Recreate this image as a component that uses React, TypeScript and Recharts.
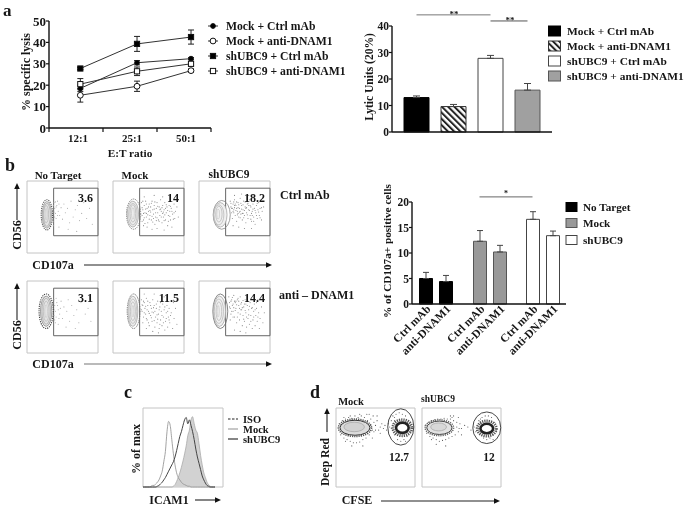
import React from 'react';
import { LineChart, Line, BarChart, Bar, Cell, ErrorBar, XAxis, YAxis, ReferenceLine, ReferenceArea, ScatterChart, Scatter, ComposedChart, Area } from 'recharts';

const serif = '"Liberation Serif", serif';
const ink = '#161616';

// ---- panel a, lysis lines
const ratioLabels = ['12:1', '25:1', '50:1'];
const ratioSlots = [0.58, 1.63, 2.63];
const mockCtrl = [18.5, 30.5, 32.4];
const mockCtrlErr = [1.5, 1, 0.5];
const mockAnti = [15.3, 19.5, 26.8];
const mockAntiErr = [3.2, 2.4, 0.8];
const shCtrl = [27.8, 39.3, 42.5];
const shCtrlErr = [0.5, 3.5, 3.3];
const shAnti = [20.5, 26.5, 30];
const shAntiErr = [2.6, 2, 1];
const lysisNames = ['Mock + Ctrl mAb', 'Mock + anti-DNAM1', 'shUBC9 + Ctrl mAb', 'shUBC9 + anti-DNAM1'];
const lysisRows = ratioSlots.map((slot, i) => ({
  slot,
  mockCtrl: mockCtrl[i], mockCtrlErr: mockCtrlErr[i],
  mockAnti: mockAnti[i], mockAntiErr: mockAntiErr[i],
  shCtrl: shCtrl[i], shCtrlErr: shCtrlErr[i],
  shAnti: shAnti[i], shAntiErr: shAntiErr[i],
}));

// ---- panel a, lytic units bars
const lyticValues = [13, 9.6, 27.8, 15.8];
const lyticErr = [0.6, 0.8, 1.1, 2.5];
const lyticFill = ['#000', 'url(#hatchA)', '#fff', '#a0a0a0'];
const lyticStroke = ['#000', '#333', '#444', '#555'];
const lyticRows = lysisNames.map((name, i) => ({ name, v: lyticValues[i], e: [0, lyticErr[i]] }));

// ---- panel b, CD107a bars
const cdSlots = [0, 1, 2.7, 3.7, 5.35, 6.35];
const cdLabels = ['Ctrl mAb', 'anti-DNAM1', 'Ctrl mAb', 'anti-DNAM1', 'Ctrl mAb', 'anti-DNAM1'];
const cdValues = [5, 4.4, 12.3, 10.2, 16.6, 13.4];
const cdErr = [1.2, 1.2, 2.1, 1.3, 1.5, 0.9];
const cdFill = ['#000', '#000', '#999', '#999', '#fff', '#fff'];
const cdStroke = ['#000', '#000', '#555', '#555', '#444', '#444'];
const cdRows = cdSlots.map((slot, i) => ({ slot, v: cdValues[i], e: [0, cdErr[i]] }));
const cdLegendNames = ['No Target', 'Mock', 'shUBC9'];

// ---- panel b, flow plots (x, y on the 0-100 plot scale)
const dotsNoTargetCtrl = [[38,70],[39,62],[40,55],[41,48],[37,44],[42,66],[44,58],[46,52],[43,72],[48,63],[50,47],[52,68],[54,56],[57,62],[60,42],[62,72],[65,50],[68,60],[71,66],[74,45],[77,55],[80,70],[84,48],[88,62],[92,40],[58,33],[70,30],[45,36],[36,58],[39,50],[37,66],[36,50],[38,57],[41,64],[40,71],[37,38],[43,52],[45,68]];
const dotsMockCtrl = [[40,70],[42,60],[41,52],[43,46],[44,66],[45,56],[46,72],[47,50],[48,62],[49,42],[50,58],[51,68],[52,52],[53,64],[54,46],[55,72],[56,60],[57,54],[58,66],[59,40],[60,50],[61,62],[62,70],[63,56],[64,46],[65,64],[66,52],[67,74],[68,58],[69,42],[70,66],[71,50],[72,60],[73,70],[74,46],[75,56],[76,64],[77,38],[78,52],[79,66],[80,58],[81,46],[82,62],[84,54],[86,68],[87,48],[88,58],[90,64],[92,50],[48,36],[55,33],[62,34],[72,32],[83,36],[44,78],[58,80],[70,78],[43,38],[47,55],[52,59],[57,48],[61,45],[66,60],[70,55],[74,62],
  [41,63],[43,55],[44,49],[46,61],[47,68],[49,53],[50,64],[51,47],[53,57],[54,69],[55,51],[56,43],[58,61],[59,71],[60,56],[62,49],[63,65],[65,44],[67,61],[68,50],[69,63],[71,57],[72,45],[73,53],[75,67],[77,59],[78,44],[80,51],[81,65],[83,58],[85,47],[86,56],[41,44],[42,72],[45,41]];
const dotsShCtrl = [[44,72],[45,64],[46,56],[47,48],[48,68],[49,60],[50,74],[51,52],[52,66],[53,44],[54,58],[55,70],[56,50],[57,62],[58,76],[59,54],[60,66],[61,46],[62,60],[63,72],[64,52],[65,64],[66,42],[67,56],[68,68],[69,48],[70,60],[71,74],[72,52],[73,64],[74,44],[75,58],[76,68],[77,50],[78,62],[79,40],[80,56],[81,66],[82,48],[83,60],[84,70],[85,52],[86,62],[88,46],[89,58],[91,64],[48,38],[56,36],[64,34],[74,34],[50,80],[60,82],[70,80],[47,62],[50,66],[53,62],[49,56],[55,55],[58,58],[62,55],[66,62],[70,66],[75,52],
  [45,69],[46,62],[48,58],[49,71],[50,63],[51,68],[52,59],[53,71],[54,53],[55,63],[56,67],[57,57],[58,49],[59,69],[60,61],[61,55],[62,67],[63,49],[64,59],[65,71],[67,63],[68,53],[69,69],[71,59],[72,66],[73,47],[74,55],[76,61],[77,44],[79,59],[81,52],[82,69],[84,57],[86,49],[88,63]];
const dotsNoTargetAnti = [[38,74],[39,66],[40,58],[41,50],[40,42],[42,70],[44,60],[46,54],[48,72],[50,48],[52,64],[56,58],[58,74],[60,44],[63,66],[66,52],[70,60],[73,42],[76,70],[82,54],[86,62],[90,44],[55,36],[68,34],[44,40],[38,52],[38,60],[39,46],[41,76],[43,66],[45,48],[47,62]];
const dotsMockAnti = [[40,74],[42,66],[41,58],[43,50],[42,42],[44,70],[45,62],[46,54],[47,76],[48,46],[49,66],[50,58],[51,38],[52,70],[53,52],[54,62],[55,44],[56,74],[57,56],[58,66],[59,36],[60,50],[61,62],[62,42],[63,72],[64,54],[65,34],[66,64],[67,46],[68,58],[69,38],[70,68],[71,50],[72,60],[73,32],[74,44],[75,56],[76,66],[77,36],[78,50],[79,62],[80,42],[82,56],[84,34],[86,48],[88,62],[90,40],[47,34],[56,30],[64,28],[44,82],[58,82],[72,78],[85,70],
  [40,60],[41,67],[43,72],[44,56],[46,65],[47,48],[48,60],[49,72],[50,42],[51,55],[53,66],[54,49],[55,57],[57,63],[58,45],[59,58],[61,68],[62,53],[63,47],[65,60],[66,40],[67,70],[69,52],[71,42],[73,64],[75,48],[77,58],[79,46],[81,52]];
const dotsShAnti = [[42,78],[43,70],[44,62],[45,54],[44,46],[46,74],[47,66],[48,58],[49,80],[50,50],[51,70],[52,62],[53,42],[54,74],[55,56],[56,66],[57,46],[58,78],[59,60],[60,70],[61,38],[62,52],[63,64],[64,44],[65,74],[66,56],[67,36],[68,66],[69,48],[70,60],[71,40],[72,70],[73,52],[74,62],[75,34],[76,46],[77,58],[78,68],[79,38],[80,52],[81,62],[82,44],[83,74],[84,56],[85,34],[86,48],[88,64],[90,42],[92,56],[50,32],[58,30],[66,28],[48,68],[52,72],[56,72],[60,60],[64,68],[68,74],
  [43,64],[45,72],[46,58],[47,77],[48,50],[49,63],[50,72],[51,59],[53,67],[54,50],[55,76],[57,62],[58,54],[59,68],[61,63],[62,73],[63,47],[65,59],[66,68],[67,50],[69,72],[70,53],[71,65],[73,44],[75,63],[77,50],[79,60],[81,70],[83,50]];

const bandsNoTargetCtrl = [
  { x: 28, y: 53, rx: 8, ry: 21, line: '#555', dash: '1.2 1', wide: 1.1 },
  { x: 28, y: 53, rx: 6.5, ry: 18.5, line: '#999', dash: '', wide: 0.8, fill: '#e4e4e4' },
  { x: 28, y: 53, rx: 5, ry: 16, line: '#aaa', dash: '', wide: 0.8 },
  { x: 27, y: 54, rx: 3.5, ry: 12, line: '#bbb', dash: '', wide: 0.8 },
  { x: 27, y: 54, rx: 1.5, ry: 8, line: '#ccc', dash: '', wide: 0.8 },
];
const bandsMockCtrl = [
  { x: 29, y: 54, rx: 10, ry: 21, line: '#777', dash: '1.2 1', wide: 1 },
  { x: 28, y: 54, rx: 8, ry: 18, line: '#aaa', dash: '', wide: 0.8, fill: '#ededed' },
  { x: 28, y: 54, rx: 6, ry: 15, line: '#bbb', dash: '', wide: 0.8 },
  { x: 28, y: 55, rx: 4, ry: 12, line: '#bbb', dash: '', wide: 0.8 },
  { x: 28, y: 55, rx: 2, ry: 8, line: '#ccc', dash: '', wide: 0.8 },
];
const bandsShCtrl = [
  { x: 32, y: 53, rx: 12, ry: 20, line: '#888', dash: '', wide: 0.8 },
  { x: 30, y: 53, rx: 9.5, ry: 17, line: '#aaa', dash: '', wide: 0.8, fill: '#f0f0f0' },
  { x: 28, y: 53, rx: 7, ry: 14, line: '#bbb', dash: '', wide: 0.8 },
  { x: 28, y: 54, rx: 4.5, ry: 11, line: '#bbb', dash: '', wide: 0.8 },
  { x: 27, y: 54, rx: 2, ry: 7, line: '#ccc', dash: '', wide: 0.8 },
];
const bandsNoTargetAnti = [
  { x: 27, y: 58, rx: 10, ry: 24, line: '#444', dash: '1.2 1', wide: 1.1 },
  { x: 27, y: 58, rx: 8, ry: 21, line: '#888', dash: '', wide: 0.8, fill: '#e4e4e4' },
  { x: 27, y: 58, rx: 6, ry: 18, line: '#aaa', dash: '', wide: 0.8 },
  { x: 27, y: 58, rx: 4, ry: 14, line: '#bbb', dash: '', wide: 0.8 },
  { x: 27, y: 58, rx: 2, ry: 9, line: '#ccc', dash: '', wide: 0.8 },
];
const bandsMockAnti = [
  { x: 29, y: 58, rx: 9, ry: 24, line: '#666', dash: '1.2 1', wide: 1 },
  { x: 28, y: 58, rx: 7, ry: 21, line: '#aaa', dash: '', wide: 0.8, fill: '#ededed' },
  { x: 28, y: 58, rx: 5.5, ry: 17, line: '#bbb', dash: '', wide: 0.8 },
  { x: 28, y: 58, rx: 3.5, ry: 13, line: '#bbb', dash: '', wide: 0.8 },
  { x: 28, y: 58, rx: 1.5, ry: 8, line: '#ccc', dash: '', wide: 0.8 },
];
const bandsShAnti = [
  { x: 30, y: 58, rx: 10.5, ry: 24, line: '#666', dash: '', wide: 0.8 },
  { x: 29, y: 58, rx: 8.5, ry: 21, line: '#aaa', dash: '', wide: 0.8, fill: '#f0f0f0' },
  { x: 28, y: 58, rx: 6.5, ry: 17, line: '#bbb', dash: '', wide: 0.8 },
  { x: 28, y: 58, rx: 4, ry: 13, line: '#bbb', dash: '', wide: 0.8 },
  { x: 27, y: 58, rx: 1.5, ry: 8, line: '#ccc', dash: '', wide: 0.8 },
];

const flowPercents = ['3.6', '14', '18.2', '3.1', '11.5', '14.4'];
const flowTicks = [4, 10, 16, 22, 30, 46, 54, 62, 70, 78, 90, 97];

// ---- panel c, ICAM1 histogram
const histX = [0,2,4,6,8,10,12,14,16,18,20,22,24,26,28,30,32,34,36,38,40,42,44,46,48,50,52,54,56,58,60,62,64,66,68,70,72,74,76,78,80,82,84,86,88,90];
const histIso = [0,0,0,0,0,1,2,2,4,6,9,14,20,32,45,70,83,78,60,42,28,18,12,9,6,4,3,2,1,1,0,0,0,0,0,0,0,0,0,0,0,0,0,0,0,0];
const histMock = [0,0,0,0,0,0,0,0,0,0,0,0,0,0,0,0,0,0,0,1,3,7,12,18,25,33,42,52,65,72,85,89,80,72,68,55,40,28,18,12,6,3,1,0,0,0];
const histSh = [0,0,0,0,0,0,0,0,0,1,2,4,6,9,12,16,20,24,28,32,38,46,55,64,70,78,85,88,80,85,78,70,60,48,38,30,22,14,9,5,2,1,0,0,0,0];
const histRows = histX.map((x, i) => ({ x, iso: histIso[i], mock: histMock[i], sh: histSh[i] }));
const histNames = ['ISO', 'Mock', 'shUBC9'];

// ---- panel d, CFSE flow plots
const dotsCfseMock = [[4,80],[6,66],[8,84],[10,62],[12,86],[14,60],[16,88],[18,58],[20,87],[22,56],[24,90],[26,56],[28,88],[30,57],[32,90],[34,60],[36,88],[38,62],[40,84],[42,66],[44,86],[46,72],[48,82],[50,78],[52,84],[54,72],[56,76],[58,80],[60,74],[62,78],[64,72],[66,80],[68,76],[70,84],[72,90],[74,66],[76,92],[78,60],[80,94],[82,58],[84,92],[86,60],[88,90],[90,64],[92,84],[94,70],[70,74],[72,80],[74,84],[76,68],[92,76],[90,82],[42,92],[52,90],[34,52],[20,52],[46,62],[56,68],[39,92],[47,90],[44,78],[48,70],[42,74],[50,72],[30,92],[18,90],[10,88],[8,72],[12,58],[74,88],[88,58],[94,78]];
const dotsCfseSh = [[4,78],[6,68],[8,82],[10,64],[12,84],[14,62],[16,85],[18,60],[20,86],[22,58],[24,86],[26,59],[28,87],[30,60],[32,86],[34,62],[36,86],[38,64],[40,84],[42,66],[44,82],[46,70],[48,80],[50,74],[54,78],[58,76],[62,72],[66,76],[68,70],[70,78],[72,84],[74,68],[76,88],[78,62],[80,90],[82,60],[84,90],[86,62],[88,88],[90,66],[92,82],[94,72],[72,74],[74,80],[76,72],[90,76],[88,82],[46,88],[40,90],[30,52],[18,54],[50,66],[38,88],[44,76],[47,74],[36,90],[12,60],[8,74],[74,86],[90,60]];
const bandsCfseMock = [
  { x: 24, y: 75, rx: 21, ry: 11, line: '#555', dash: '1.2 1', wide: 1.6 },
  { x: 24, y: 75, rx: 19, ry: 9.5, line: '#333', dash: '', wide: 1, fill: '#dcdcdc' },
  { x: 23, y: 76, rx: 13, ry: 6, line: '#aaa', dash: '', wide: 0.8, fill: '#d2d2d2' },
  { x: 84, y: 75, rx: 12, ry: 10, line: '#555', dash: '1.2 1', wide: 3 },
  { x: 84, y: 75, rx: 8, ry: 6.5, line: '#222', dash: '', wide: 2.6, fill: '#fff' },
];
const bandsCfseSh = [
  { x: 22, y: 75, rx: 18, ry: 10, line: '#666', dash: '1.2 1', wide: 1.5 },
  { x: 22, y: 75, rx: 16, ry: 8.5, line: '#444', dash: '', wide: 1, fill: '#e2e2e2' },
  { x: 21, y: 76, rx: 10, ry: 5, line: '#aaa', dash: '', wide: 0.8, fill: '#d8d8d8' },
  { x: 82, y: 74, rx: 12, ry: 9.5, line: '#555', dash: '1.2 1', wide: 3 },
  { x: 82, y: 74, rx: 8, ry: 6, line: '#222', dash: '', wide: 2.6, fill: '#fff' },
];
const gateCfseMock = [{ x: 82, y: 76, rx: 16.5, ry: 23, line: '#333', dash: '', wide: 0.9 }];
const gateCfseSh = [{ x: 82, y: 75, rx: 17.7, ry: 20, line: '#333', dash: '', wide: 0.9 }];

const tickStyle = { fontFamily: serif, fontWeight: 700, fontSize: 13, fill: ink };
const smallTickStyle = { ...tickStyle, fontSize: 11.5 };

type Mark = 'disc' | 'ring' | 'block' | 'box';
const Marker = ({ cx, cy, kind }: { cx: number; cy: number; kind: Mark }) => {
  const open = kind === 'ring' || kind === 'box';
  const fill = open ? '#fff' : '#000';
  if (kind === 'disc' || kind === 'ring') return <circle cx={cx} cy={cy} r={open ? 2.9 : 2.4} fill={fill} stroke="#111" strokeWidth={1} />;
  return <rect x={cx - 2.6} y={cy - 2.6} width={5.2} height={5.2} fill={fill} stroke="#111" strokeWidth={1} />;
};
const lysisMarks: Mark[] = ['disc', 'ring', 'block', 'box'];

const at = (left: number, top: number): React.CSSProperties => ({ position: 'absolute', left, top });

const markerDot = (kind: Mark) => (p: any) => <Marker key={p.index} cx={p.cx} cy={p.cy} kind={kind} />;

const LysisChart = () => {
  const series: [string, string, Mark][] = [
    ['mockCtrl', 'mockCtrlErr', 'disc'], ['mockAnti', 'mockAntiErr', 'ring'],
    ['shCtrl', 'shCtrlErr', 'block'], ['shAnti', 'shAntiErr', 'box'],
  ];
  return (
    <div style={at(0, 0)}>
      <LineChart width={221} height={160} data={lysisRows} margin={{ top: 21, right: 10, bottom: 0, left: 0 }}>
        <XAxis dataKey="slot" type="number" domain={[0, 3]} ticks={[0, 0.5, 1, 1.5, 2, 2.5, 3]} interval={0} height={32}
          axisLine={{ stroke: '#111', strokeWidth: 1.4 }} tickLine={false}
          tick={(p: any) => {
            const v = p.payload.value;
            if (Number.isInteger(v)) return <line x1={p.x} x2={p.x} y1={128} y2={132} stroke="#111" strokeWidth={1.2} />;
            return <text x={p.x + 2} y={138} textAnchor="middle" dominantBaseline="central" style={{ ...tickStyle, fontSize: 11 }}>{ratioLabels[Math.floor(v)]}</text>;
          }} />
        <YAxis domain={[0, 50]} ticks={[0, 10, 20, 30, 40, 50]} width={49} tick={tickStyle} tickSize={3} tickMargin={0}
          axisLine={{ stroke: '#111', strokeWidth: 1.4 }} tickLine={{ stroke: '#111', strokeWidth: 1.2 }} />
        {series.map(([key, err, kind]) => (
          <Line key={key} dataKey={key} stroke="#333" strokeWidth={1} isAnimationActive={false} dot={markerDot(kind)}>
            <ErrorBar dataKey={err} width={3} stroke="#222" strokeWidth={1} direction="y" isAnimationActive={false} />
          </Line>
        ))}
      </LineChart>
    </div>
  );
};

const LyticChart = () => (
  <div style={at(340, 0)}>
    <BarChart width={217} height={140} data={lyticRows} margin={{ top: 26, right: 5, bottom: 0, left: 0 }} barSize={25}>
      <XAxis dataKey="name" height={8} tick={false} tickLine={false} padding={{ left: 6, right: 6 }} axisLine={{ stroke: '#111', strokeWidth: 1.4 }} />
      <YAxis domain={[0, 40]} ticks={[0, 10, 20, 30, 40]} width={52} tick={smallTickStyle} tickSize={3} tickMargin={0}
        axisLine={{ stroke: '#111', strokeWidth: 1.4 }} tickLine={{ stroke: '#111', strokeWidth: 1.2 }} />
      <Bar dataKey="v" isAnimationActive={false} strokeWidth={1}>
        {lyticRows.map((r, i) => <Cell key={r.name} fill={lyticFill[i]} stroke={lyticStroke[i]} />)}
        <ErrorBar dataKey="e" width={3.5} stroke="#444" strokeWidth={1} direction="y" isAnimationActive={false} />
      </Bar>
      <ReferenceLine ifOverflow="visible" stroke="#777" strokeWidth={1} segment={[{ x: lysisNames[0], y: 44.2 }, { x: lysisNames[2], y: 44.2 }]} />
      <ReferenceLine ifOverflow="visible" stroke="#555" strokeWidth={1} segment={[{ x: lysisNames[2], y: 41.9 }, { x: lysisNames[3], y: 41.9 }]} />
    </BarChart>
  </div>
);

const Cd107Chart = () => (
  <div style={at(340, 170)}>
    <BarChart width={231} height={194} data={cdRows} margin={{ top: 32, right: 5, bottom: 0, left: 0 }} barSize={13}>
      <XAxis dataKey="slot" type="number" domain={[-0.675, 7.025]} ticks={cdSlots} interval={0} height={60} tickLine={false}
        axisLine={{ stroke: '#111', strokeWidth: 1.4 }} angle={-45} textAnchor="end" tickMargin={0} tickSize={0}
        tick={{ ...tickStyle, fontSize: 11.5 }} tickFormatter={(v: number) => cdLabels[cdSlots.indexOf(v)]} />
      <YAxis domain={[0, 20]} ticks={[0, 5, 10, 15, 20]} width={72} tick={smallTickStyle} tickSize={3} tickMargin={0}
        axisLine={{ stroke: '#111', strokeWidth: 1.4 }} tickLine={{ stroke: '#111', strokeWidth: 1.2 }} />
      <Bar dataKey="v" isAnimationActive={false} strokeWidth={1}>
        {cdRows.map((r, i) => <Cell key={r.slot} fill={cdFill[i]} stroke={cdStroke[i]} />)}
        <ErrorBar dataKey="e" width={3} stroke="#444" strokeWidth={1} direction="y" isAnimationActive={false} />
      </Bar>
      <ReferenceLine ifOverflow="visible" stroke="#666" strokeWidth={1} segment={[{ x: cdSlots[2], y: 21 }, { x: cdSlots[4], y: 21 }]} />
    </BarChart>
  </div>
);

type Band = { x: number; y: number; rx: number; ry: number; line: string; dash: string; wide: number; fill?: string };

const FlowPlot = ({ left, top, w, h, dots, bands, gates, rect, percent, dotTone = '#8a8a8a' }:
  { left: number; top: number; w: number; h: number; dots: number[][]; bands: Band[]; gates?: Band[]; rect?: number[]; percent?: string; dotTone?: string }) => {
  const kx = w / 100, ky = h / 100;
  const ellipse = (p: any) => {
    const b = p.payload as Band;
    return <ellipse cx={p.cx} cy={p.cy} rx={b.rx * kx} ry={b.ry * ky} fill={b.fill ?? 'none'} stroke={b.line} strokeWidth={b.wide} strokeDasharray={b.dash || undefined} />;
  };
  return (
    <div style={at(left - 1, top - 1)}>
      <ScatterChart width={w + 2} height={h + 2} margin={{ top: 1, right: 1, bottom: 1, left: 1 }}>
        <XAxis dataKey="x" type="number" domain={[0, 100]} ticks={flowTicks} interval={0} mirror tick={false} height={0} tickSize={2}
          axisLine={{ stroke: '#c4c4c4' }} tickLine={{ stroke: '#222' }} />
        <YAxis dataKey="y" type="number" domain={[0, 100]} ticks={flowTicks} interval={0} mirror tick={false} width={0} tickSize={2}
          axisLine={{ stroke: '#c4c4c4' }} tickLine={{ stroke: '#222' }} />
        <ReferenceArea x1={0} x2={100} y1={0} y2={100} fill="none" stroke="#c4c4c4" strokeWidth={1} />
        <Scatter data={dots.map(([x, y]) => ({ x, y }))} isAnimationActive={false}
          shape={(p: any) => <circle cx={p.cx} cy={p.cy} r={0.55} fill={dotTone} />} />
        <Scatter data={bands} isAnimationActive={false} shape={ellipse} />
        {gates && <Scatter data={gates} isAnimationActive={false} shape={ellipse} />}
        {rect && (
          <ReferenceArea x1={rect[0]} x2={rect[1]} y1={rect[2]} y2={rect[3]} fill="none" stroke="#666" strokeWidth={1}
            label={{ value: percent, position: 'insideTopRight', offset: 5, style: { fontFamily: serif, fontWeight: 700, fontSize: 12, fill: ink } }} />
        )}
      </ScatterChart>
    </div>
  );
};

const Histogram = () => (
  <div style={at(142, 407)}>
    <ComposedChart width={82} height={81} data={histRows} margin={{ top: 1, right: 1, bottom: 1, left: 1 }}>
      <XAxis dataKey="x" type="number" domain={[0, 100]} ticks={flowTicks} interval={0} mirror tick={false} height={0} tickSize={2}
        axisLine={{ stroke: '#bbb' }} tickLine={{ stroke: '#222' }} />
      <YAxis type="number" domain={[0, 100]} ticks={flowTicks} interval={0} mirror tick={false} width={0} tickSize={2}
        axisLine={{ stroke: '#bbb' }} tickLine={{ stroke: '#222' }} />
      <ReferenceArea x1={0} x2={100} y1={0} y2={100} fill="none" stroke="#c4c4c4" strokeWidth={1} />
      <Area dataKey="mock" type="monotone" fill="#d2d2d2" fillOpacity={1} stroke="#aaa" strokeWidth={0.8} isAnimationActive={false} dot={false} />
      <Line dataKey="iso" type="monotone" stroke="#999" strokeWidth={0.9} isAnimationActive={false} dot={false} />
      <Line dataKey="sh" type="monotone" stroke="#444" strokeWidth={1} isAnimationActive={false} dot={false} />
    </ComposedChart>
  </div>
);

const T = ({ x, y, size = 13, anchor = 'start', rot, children }: any) => (
  <text x={x} y={y} fontFamily={serif} fontWeight={700} fontSize={size} fill={ink} textAnchor={anchor} dominantBaseline="central"
    transform={rot ? `rotate(${rot} ${x} ${y})` : undefined}>{children}</text>
);
const HArrow = ({ x1, x2, y, tone = '#222' }: any) => (
  <g><line x1={x1} x2={x2 - 5} y1={y} y2={y} stroke={tone} strokeWidth={1.1} /><path d={`M${x2} ${y} L${x2 - 6} ${y - 2.8} L${x2 - 6} ${y + 2.8} Z`} fill="#111" /></g>
);
const VArrow = ({ x, y1, y2 }: any) => (
  <g><line x1={x} x2={x} y1={y1} y2={y2 + 5} stroke="#222" strokeWidth={1.1} /><path d={`M${x} ${y2} L${x - 2.8} ${y2 + 6} L${x + 2.8} ${y2 + 6} Z`} fill="#111" /></g>
);

const Overlay = () => {
  const lysisRowsY = [26, 41, 56, 71];
  const lyticRowsY = [31, 46, 61, 76];
  const cdRowsY = [207, 223, 240];
  const histRowsY = [419, 429, 439];
  const histStrokes = ['#222', '#999', '#222'];
  return (
    <svg width={685} height={508} style={{ ...at(0, 0), pointerEvents: 'none' }}>
      <defs>
        <pattern id="hatchA" width="4.4" height="4.4" patternUnits="userSpaceOnUse" patternTransform="rotate(-45)">
          <rect width="4.4" height="4.4" fill="#fff" />
          <rect width="2" height="4.4" fill="#222" />
        </pattern>
      </defs>
      <T x={3} y={10} size={17}>a</T>
      <T x={5} y={165} size={18}>b</T>
      <T x={124} y={392} size={18}>c</T>
      <T x={310} y={392} size={18}>d</T>

      <T x={26} y={72} size={12} anchor="middle" rot={-90}>% specific lysis</T>
      <T x={130} y={153} size={11.3} anchor="middle">E:T ratio</T>
      {lysisNames.map((n, i) => (
        <g key={n}>
          <line x1={208} x2={218} y1={lysisRowsY[i]} y2={lysisRowsY[i]} stroke="#333" />
          <Marker cx={213} cy={lysisRowsY[i]} kind={lysisMarks[i]} />
          <T x={226} y={lysisRowsY[i]} size={11.7}>{n}</T>
        </g>
      ))}

      <T x={369} y={77} size={11.5} anchor="middle" rot={-90}>Lytic Units (20%)</T>
      <T x={454} y={14} size={9} anchor="middle">**</T>
      <T x={510} y={20} size={9} anchor="middle">**</T>
      {lysisNames.map((n, i) => (
        <g key={n}>
          <rect x={548.5} y={lyticRowsY[i] - 5} width={12} height={10} fill={lyticFill[i]} stroke={lyticStroke[i]} />
          <T x={567} y={lyticRowsY[i]} size={11.4}>{n}</T>
        </g>
      ))}

      <T x={58} y={175} size={11} anchor="middle">No Target</T>
      <T x={135} y={175} size={11} anchor="middle">Mock</T>
      <T x={229} y={174} size={11.5} anchor="middle">shUBC9</T>
      <T x={280} y={195} size={12}>Ctrl mAb</T>
      <T x={279} y={295} size={12}>anti – DNAM1</T>
      {[235, 335].map((y) => <T key={y} x={17} y={y} size={12} anchor="middle" rot={-90}>CD56</T>)}
      <VArrow x={17} y1={220} y2={183} />
      <VArrow x={17} y1={320} y2={283} />
      {[265, 364].map((y) => <T key={y} x={53} y={y} size={12} anchor="middle">CD107a</T>)}
      <HArrow x1={84} x2={272} y={265} />
      <HArrow x1={84} x2={272} y={364} tone="#777" />

      <T x={387} y={251} size={11.2} anchor="middle" rot={-90}>% of CD107a+ positive cells</T>
      <T x={506} y={193} size={8} anchor="middle">*</T>
      {cdLegendNames.map((n, i) => (
        <g key={n}>
          <rect x={566} y={cdRowsY[i] - 4.5} width={11} height={9} fill={cdFill[i * 2]} stroke={cdStroke[i * 2]} />
          <T x={583} y={cdRowsY[i]} size={11.2}>{n}</T>
        </g>
      ))}

      <T x={136} y={449} size={12} anchor="middle" rot={-90}>% of max</T>
      <T x={169} y={500} size={12} anchor="middle">ICAM1</T>
      <HArrow x1={195} x2={221} y={500} />
      {histNames.map((n, i) => (
        <g key={n}>
          <line x1={228} x2={238} y1={histRowsY[i]} y2={histRowsY[i]} stroke={histStrokes[i]} strokeWidth={1.1} strokeDasharray={i === 0 ? '2.5 1.5' : undefined} />
          <T x={243} y={histRowsY[i]} size={10.5}>{n}</T>
        </g>
      ))}

      <T x={351} y={401} size={10.5} anchor="middle">Mock</T>
      <T x={438} y={399} size={9.5} anchor="middle">shUBC9</T>
      <T x={399} y={457} size={11.5} anchor="middle">12.7</T>
      <T x={489} y={457} size={11.5} anchor="middle">12</T>
      <T x={325} y={462} size={11.6} anchor="middle" rot={-90}>Deep Red</T>
      <VArrow x={327} y1={432} y2={408} />
      <T x={357} y={500} size={12} anchor="middle">CFSE</T>
      <HArrow x1={381} x2={500} y={501} />
    </svg>
  );
};

export default function App() {
  const gateRect = [37.5, 100, 24, 90];
  return (
    <div style={{ position: 'absolute', left: 0, top: 0, width: 685, height: 508, background: '#fff', overflow: 'hidden', filter: 'blur(0.35px)' }}>
      <LysisChart />
      <LyticChart />
      <Cd107Chart />
      <FlowPlot left={27} top={181} w={71} h={72} dots={dotsNoTargetCtrl} bands={bandsNoTargetCtrl} rect={gateRect} percent={flowPercents[0]} dotTone="#aaa" />
      <FlowPlot left={113} top={181} w={71} h={72} dots={dotsMockCtrl} bands={bandsMockCtrl} rect={gateRect} percent={flowPercents[1]} />
      <FlowPlot left={199} top={181} w={71} h={72} dots={dotsShCtrl} bands={bandsShCtrl} rect={gateRect} percent={flowPercents[2]} />
      <FlowPlot left={27} top={281} w={71} h={72} dots={dotsNoTargetAnti} bands={bandsNoTargetAnti} rect={gateRect} percent={flowPercents[3]} dotTone="#aaa" />
      <FlowPlot left={113} top={281} w={71} h={72} dots={dotsMockAnti} bands={bandsMockAnti} rect={gateRect} percent={flowPercents[4]} />
      <FlowPlot left={199} top={281} w={71} h={72} dots={dotsShAnti} bands={bandsShAnti} rect={gateRect} percent={flowPercents[5]} />
      <Histogram />
      <FlowPlot left={336} top={408} w={79} h={79} dots={dotsCfseMock} bands={bandsCfseMock} gates={gateCfseMock} dotTone="#555" />
      <FlowPlot left={422} top={408} w={79} h={79} dots={dotsCfseSh} bands={bandsCfseSh} gates={gateCfseSh} dotTone="#555" />
      <Overlay />
    </div>
  );
}
